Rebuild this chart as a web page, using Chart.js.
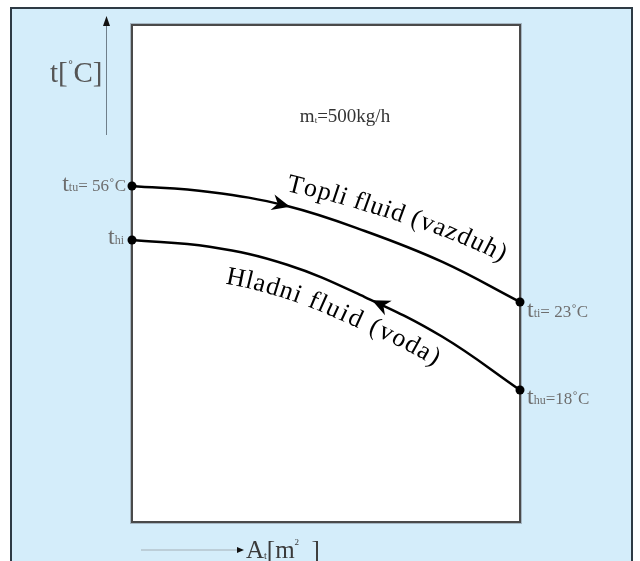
<!DOCTYPE html>
<html>
<head>
<meta charset="utf-8">
<script src="https://cdn.jsdelivr.net/npm/chart.js@4.4.0/dist/chart.umd.min.js"></script>
<style>
  html, body { margin: 0; padding: 0; background: #fff; }
  #myChart { display: block; }
</style>
</head>
<body>
<canvas id="myChart" width="640" height="561"></canvas>
<script>
// Povrsina razmjenjivaca A_t (relativno, 0..10)
const povrsina = [0, 2, 4, 6, 8, 10];
// Topli fluid (vazduh), tok s lijeva na desno [°C]
const topliFluid = [56, 54.3, 50.3, 43.2, 34.4, 23];
// Hladni fluid (voda), tok s desna na lijevo [°C]
const hladniFluid = [38, 37.1, 34.7, 30.4, 25.1, 18];

const SERIF = '"Liberation Serif", "DejaVu Serif", serif';
const plava = 'rgb(212,237,250)';

// tekst sa indeksom: dijelovi [{t, size, dy, razmak}]
function tekstSaIndeksom(ctx, x, y, dijelovi, poravnanje, boja) {
  let ukupno = 0;
  dijelovi.forEach(d => {
    ctx.font = d.size + 'px ' + SERIF;
    d.w = ctx.measureText(d.t).width + (d.razmak || 0);
    ukupno += d.w;
  });
  let cx = poravnanje === 'right' ? x - ukupno : (poravnanje === 'center' ? x - ukupno / 2 : x);
  ctx.fillStyle = boja;
  ctx.textBaseline = 'alphabetic';
  ctx.textAlign = 'left';
  dijelovi.forEach(d => {
    ctx.font = d.size + 'px ' + SERIF;
    ctx.fillText(d.t, cx, y + (d.dy || 0));
    cx += d.w;
  });
}

// gusta putanja po bezier segmentima linije
function putanja(meta) {
  const p = meta.data;
  const out = [];
  for (let i = 0; i < p.length - 1; i++) {
    const a = p[i], b = p[i + 1];
    const c1x = a.cp2x ?? a.x, c1y = a.cp2y ?? a.y;
    const c2x = b.cp1x ?? b.x, c2y = b.cp1y ?? b.y;
    for (let k = 0; k < 30; k++) {
      const t = k / 30, u = 1 - t;
      out.push({
        x: u*u*u*a.x + 3*u*u*t*c1x + 3*u*t*t*c2x + t*t*t*b.x,
        y: u*u*u*a.y + 3*u*u*t*c1y + 3*u*t*t*c2y + t*t*t*b.y
      });
    }
  }
  const z = p[p.length - 1];
  out.push({ x: z.x, y: z.y });
  let s = 0;
  out.forEach((q, i) => {
    if (i > 0) s += Math.hypot(q.x - out[i-1].x, q.y - out[i-1].y);
    q.s = s;
  });
  return out;
}

function tackaNa(put, s) {
  for (let i = 1; i < put.length; i++) {
    if (put[i].s >= s || i === put.length - 1) {
      const a = put[i-1], b = put[i];
      const f = Math.min(1, Math.max(0, (s - a.s) / ((b.s - a.s) || 1)));
      return { x: a.x + (b.x - a.x) * f, y: a.y + (b.y - a.y) * f, ug: Math.atan2(b.y - a.y, b.x - a.x) };
    }
  }
}

function duzinaDoX(put, x) {
  for (let i = 1; i < put.length; i++) {
    if (put[i].x >= x) {
      const a = put[i-1], b = put[i];
      const f = (x - a.x) / ((b.x - a.x) || 1);
      return a.s + (b.s - a.s) * f;
    }
  }
  return put[put.length - 1].s;
}

// natpis koji prati krivu, d0/d1 = odmak bazne linije (pozitivno = iznad)
function tekstPoKrivoj(ctx, tekst, put, odX, d0, d1, velicina, razmak) {
  ctx.save();
  ctx.font = velicina + 'px ' + SERIF;
  ctx.fillStyle = '#000';
  ctx.textBaseline = 'alphabetic';
  ctx.textAlign = 'center';
  const sirine = [...tekst].map(ch => ctx.measureText(ch).width + razmak);
  const ukupno = sirine.reduce((a, b) => a + b, 0);
  let s = duzinaDoX(put, odX), predjeno = 0;
  [...tekst].forEach((ch, i) => {
    const sred = s + sirine[i] / 2;
    const q = tackaNa(put, sred);
    const d = d0 + (d1 - d0) * ((predjeno + sirine[i] / 2) / ukupno);
    const nx = Math.sin(q.ug), ny = -Math.cos(q.ug);
    ctx.save();
    ctx.translate(q.x + nx * d, q.y + ny * d);
    ctx.rotate(q.ug);
    ctx.fillText(ch, 0, 0);
    ctx.restore();
    s += sirine[i];
    predjeno += sirine[i];
  });
  ctx.restore();
}

// strelica smjera toka na liniji
function strelicaNa(ctx, put, x, unazad) {
  const q = tackaNa(put, duzinaDoX(put, x));
  const ug = unazad ? q.ug + Math.PI : q.ug;
  const dx = Math.cos(ug), dy = Math.sin(ug);
  const nx = -dy, ny = dx;
  const L = 18, W = 8;
  ctx.save();
  ctx.fillStyle = '#000';
  ctx.beginPath();
  ctx.moveTo(q.x, q.y);
  ctx.lineTo(q.x - L*dx + W*nx, q.y - L*dy + W*ny);
  ctx.lineTo(q.x - 0.7*L*dx, q.y - 0.7*L*dy);
  ctx.lineTo(q.x - L*dx - W*nx, q.y - L*dy - W*ny);
  ctx.closePath();
  ctx.fill();
  ctx.restore();
}

const okvir = {
  id: 'okvir',
  beforeDraw(chart) {
    const { ctx, chartArea: a } = chart;
    ctx.save();
    ctx.fillStyle = '#fff';
    ctx.fillRect(0, 0, chart.width, chart.height);
    // plava pozadina sa tamnim rubom
    ctx.fillStyle = plava;
    ctx.fillRect(11, 8, 621, 553);
    ctx.strokeStyle = '#2e3a44';
    ctx.lineWidth = 2;
    ctx.beginPath();
    ctx.moveTo(11, 561); ctx.lineTo(11, 8); ctx.lineTo(632, 8); ctx.lineTo(632, 561);
    ctx.stroke();
    // bijelo polje dijagrama
    ctx.fillStyle = '#fff';
    ctx.fillRect(a.left, a.top, a.right - a.left, a.bottom - a.top);
    ctx.strokeStyle = 'rgba(120,130,140,0.5)';
    ctx.lineWidth = 1;
    ctx.strokeRect(a.left - 1.5, a.top - 1.5, a.right - a.left + 3, a.bottom - a.top + 3);
    ctx.strokeStyle = '#4a4a4a';
    ctx.lineWidth = 2;
    ctx.strokeRect(a.left, a.top, a.right - a.left, a.bottom - a.top);
    ctx.restore();
  },
  afterDatasetsDraw(chart) {
    const ctx = chart.ctx;
    const topli = putanja(chart.getDatasetMeta(0));
    const hladni = putanja(chart.getDatasetMeta(1));

    strelicaNa(ctx, topli, 290, false);
    strelicaNa(ctx, hladni, 372, true);

    tekstPoKrivoj(ctx, 'Topli fluid (vazduh)', topli, 282, 14, 27, 26, 0.6);
    tekstPoKrivoj(ctx, 'Hladni fluid (voda)', hladni, 231, -34, -29, 26, 2);

    const siva = '#6e6e6e';
    const p0 = chart.getDatasetMeta(0).data, p1 = chart.getDatasetMeta(1).data;
    const n = povrsina.length - 1;
    tekstSaIndeksom(ctx, p0[0].x - 4, p0[0].y + 5, [
      { t: 't', size: 24 }, { t: 'tu', size: 12 }, { t: '= ' + topliFluid[0] + '˚C', size: 17, razmak: 2 }
    ], 'right', siva);
    tekstSaIndeksom(ctx, p1[0].x - 8, p1[0].y + 4, [
      { t: 't', size: 24 }, { t: 'hi', size: 12 }
    ], 'right', siva);
    tekstSaIndeksom(ctx, p0[n].x + 7, p0[n].y + 15, [
      { t: 't', size: 24 }, { t: 'ti', size: 12 }, { t: '= ' + topliFluid[n] + '˚C', size: 17 }
    ], 'left', siva);
    tekstSaIndeksom(ctx, p1[n].x + 7, p1[n].y + 14, [
      { t: 't', size: 24 }, { t: 'hu', size: 12 }, { t: '=' + hladniFluid[n] + '˚C', size: 17 }
    ], 'left', siva);

    // protok
    tekstSaIndeksom(ctx, 345, 122, [
      { t: 'm', size: 19 }, { t: 't', size: 9, dy: 1 }, { t: '=500kg/h', size: 19 }
    ], 'center', '#333');

    // osa temperature
    ctx.save();
    ctx.strokeStyle = '#6f7f8a';
    ctx.lineWidth = 1;
    ctx.beginPath();
    ctx.moveTo(106.5, 135); ctx.lineTo(106.5, 24);
    ctx.stroke();
    ctx.fillStyle = '#111';
    ctx.beginPath();
    ctx.moveTo(106.5, 16); ctx.lineTo(103, 26); ctx.lineTo(110, 26); ctx.closePath();
    ctx.fill();
    // osa povrsine
    ctx.strokeStyle = '#b4c3cc';
    ctx.lineWidth = 1.5;
    ctx.beginPath();
    ctx.moveTo(141, 550); ctx.lineTo(238, 550);
    ctx.stroke();
    ctx.beginPath();
    ctx.moveTo(244, 550); ctx.lineTo(237, 547); ctx.lineTo(237, 553); ctx.closePath();
    ctx.fill();
    ctx.restore();

    tekstSaIndeksom(ctx, 50, 82, [
      { t: 't[', size: 29 }, { t: '˚', size: 17, dy: -9 }, { t: 'C]', size: 29 }
    ], 'left', '#555');
    tekstSaIndeksom(ctx, 246, 558, [
      { t: 'A', size: 25 }, { t: 't', size: 10, dy: 1 }, { t: '[m', size: 25 },
      { t: '2', size: 9, dy: -13 }, { t: '  ]', size: 25 }
    ], 'left', '#3a3a3a');
  }
};

const ctx = document.getElementById('myChart').getContext('2d');

const tacke = (c) => (c.dataIndex === 0 || c.dataIndex === povrsina.length - 1) ? 4.5 : 0;

const chart = new Chart(ctx, {
  type: 'line',
  data: {
    labels: povrsina,
    datasets: [
      {
        label: 'Topli fluid (vazduh)',
        data: povrsina.map((a, i) => ({ x: a, y: topliFluid[i] })),
        yAxisID: 'y',
        borderColor: '#000',
        borderWidth: 2.5,
        tension: 0.4,
        pointRadius: tacke,
        pointHoverRadius: tacke,
        pointBackgroundColor: '#000',
        pointBorderWidth: 0,
        clip: false
      },
      {
        label: 'Hladni fluid (voda)',
        data: povrsina.map((a, i) => ({ x: a, y: hladniFluid[i] })),
        yAxisID: 'y2',
        borderColor: '#000',
        borderWidth: 2.5,
        tension: 0.4,
        pointRadius: tacke,
        pointHoverRadius: tacke,
        pointBackgroundColor: '#000',
        pointBorderWidth: 0,
        clip: false
      }
    ]
  },
  options: {
    responsive: false,
    animation: false,
    devicePixelRatio: 1,
    layout: { padding: { left: 132, top: 25, right: 120, bottom: 39 } },
    plugins: { legend: { display: false }, tooltip: { enabled: false } },
    scales: {
      x: { type: 'linear', min: 0, max: 10, display: false },
      // topli fluid: 56 °C lijevo, 23 °C desno
      y: { min: -39.6, max: 101.8, display: false },
      // hladni fluid ima vlastitu skalu
      y2: { min: 0.4, max: 66.67, display: false }
    }
  },
  plugins: [okvir]
});
</script>
</body>
</html>
